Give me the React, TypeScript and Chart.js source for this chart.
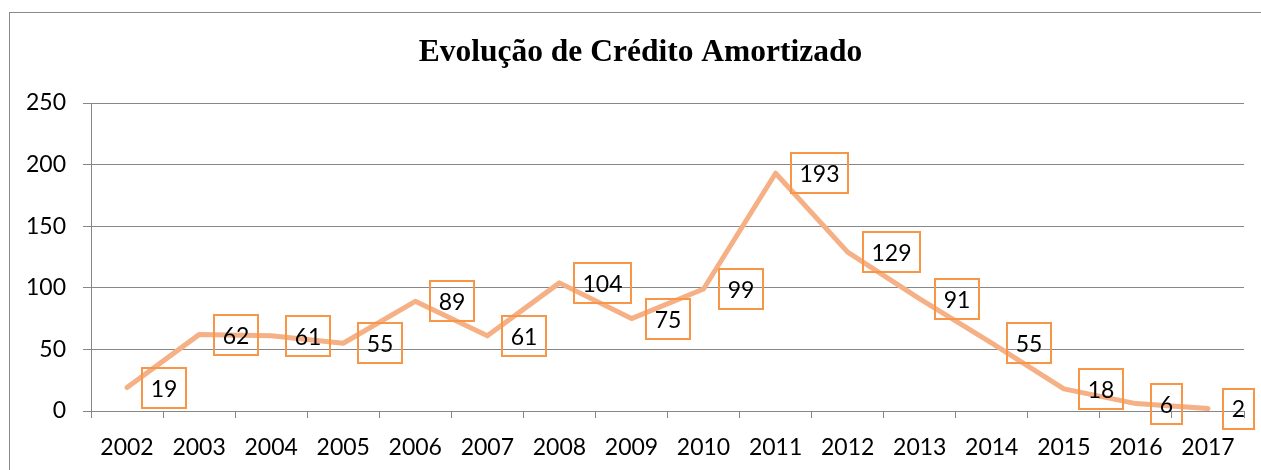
import React, { useEffect, useRef } from "react";
import { Chart, registerables } from "chart.js";

Chart.register(...registerables);

const TITLE = "Evolução de Crédito Amortizado";
const years = ["2002","2003","2004","2005","2006","2007","2008","2009","2010","2011","2012","2013","2014","2015","2016","2017"];
const values = [19, 62, 61, 55, 89, 61, 104, 75, 99, 193, 129, 91, 55, 18, 6, 2];
const yTicks = [0, 50, 100, 150, 200, 250];

const FONT = "Lato, 'Open Sans', sans-serif";
const FS = 23;
const GRID = "#878787";

const borderPlugin = {
  id: "outerBorder",
  beforeDraw(chart: any) {
    const ctx = chart.ctx;
    ctx.save();
    ctx.fillStyle = "#fff";
    ctx.fillRect(0, 0, chart.width, chart.height);
    ctx.strokeStyle = "#8a8a8a";
    ctx.lineWidth = 1;
    ctx.strokeRect(9.5, 12.5, 1400, 600);
    ctx.restore();
  },
};

const titlePlugin = {
  id: "customTitle",
  afterDraw(chart: any) {
    const ctx = chart.ctx;
    ctx.save();
    ctx.font = "bold 31.5px 'Liberation Serif', 'Times New Roman', serif";
    ctx.fillStyle = "#000";
    ctx.textAlign = "center";
    ctx.textBaseline = "alphabetic";
    ctx.fillText(TITLE, 640.5, 61);
    ctx.restore();
  },
};

const boxLabelPlugin = {
  id: "boxLabels",
  afterDatasetsDraw(chart: any) {
    const ctx = chart.ctx;
    const meta = chart.getDatasetMeta(0);
    const data = chart.data.datasets[0].data;
    ctx.save();
    ctx.font = `${FS}px ${FONT}`;
    meta.data.forEach((pt: any, i: number) => {
      const txt = String(data[i]);
      const w = ctx.measureText(txt).width;
      const bw = Math.round(w + 17.4);
      const bh = 40;
      const left = Math.round(pt.x + 15);
      const top = Math.round(pt.y - bh / 2);
      ctx.lineWidth = 2;
      ctx.strokeStyle = "#F79646";
      ctx.strokeRect(left, top, bw, bh);
      ctx.fillStyle = "#000";
      ctx.textAlign = "center";
      ctx.textBaseline = "middle";
      ctx.fillText(txt, left + bw / 2, pt.y + 1.5);
    });
    ctx.restore();
  },
};

export default function App() {
  const ref = useRef<HTMLCanvasElement>(null);
  useEffect(() => {
    if (!ref.current) return;
    const chart = new Chart(ref.current, {
      type: "line",
      data: {
        labels: years,
        datasets: [
          {
            data: values,
            borderColor: "#F5B086",
            borderWidth: 5,
            pointRadius: 0,
            tension: 0,
            borderCapStyle: "round",
            borderJoinStyle: "round",
          },
        ],
      },
      options: {
        animation: false,
        responsive: false,
        layout: { padding: { left: 9, right: 17, top: 103, bottom: 0 } },
        plugins: { legend: { display: false }, title: { display: false }, tooltip: { enabled: false } },
        scales: {
          x: {
            type: "category",
            offset: true,
            grid: { display: true, drawOnChartArea: false, drawTicks: true, tickLength: 7, color: GRID, offset: true },
            border: { display: true, color: GRID, width: 1 },
            ticks: { color: "#000", font: { family: FONT, size: FS }, padding: 16, maxRotation: 0, autoSkip: false },
            afterFit(scale: any) { scale.height = 59; },
          },
          y: {
            min: 0,
            max: 250,
            afterBuildTicks(scale: any) { scale.ticks = yTicks.map((v) => ({ value: v })); },
            grid: { display: true, drawTicks: true, tickLength: 8, color: GRID, lineWidth: 1 },
            border: { display: true, color: GRID, width: 1 },
            ticks: { color: "#000", font: { family: FONT, size: FS }, padding: 17 },
            afterFit(scale: any) { scale.width = 82; },
          },
        },
      },
      plugins: [borderPlugin, boxLabelPlugin, titlePlugin],
    });
    return () => chart.destroy();
  }, []);
  return (
    <canvas
      ref={ref}
      width={1261}
      height={470}
      style={{ position: "fixed", left: 0, top: 0, width: 1261, height: 470, display: "block" }}
    />
  );
}
